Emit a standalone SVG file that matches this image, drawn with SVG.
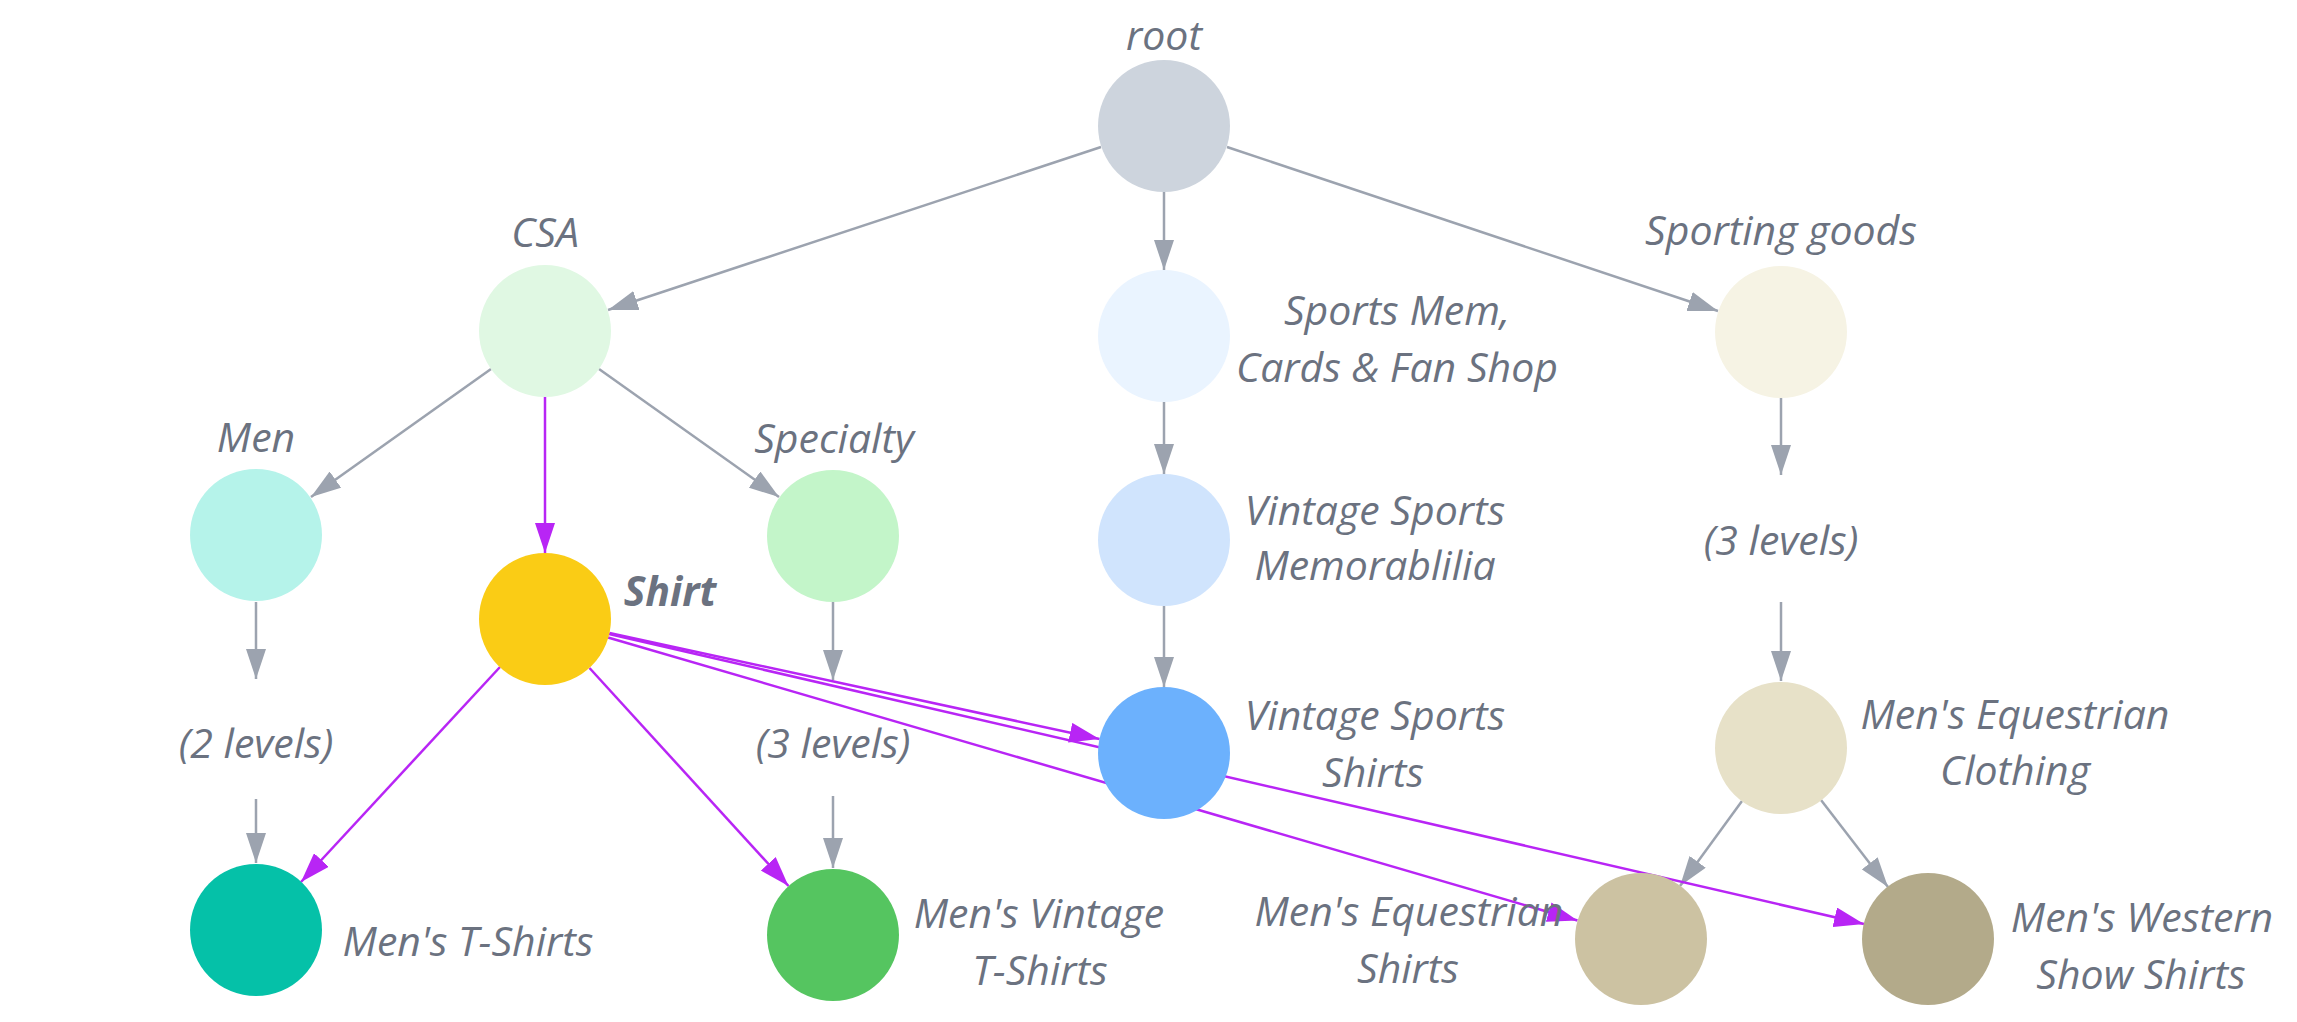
<svg xmlns="http://www.w3.org/2000/svg" width="2297" height="1022" viewBox="0 0 2297 1022">
<style>
.lbl{font-family:"Open Sans","Noto Sans","Liberation Sans",sans-serif;font-style:italic;font-size:41px;fill:#6b7280;text-anchor:middle}
.bold{font-weight:bold}
.g{stroke:#9ca3af;stroke-width:2.5;fill:none}
.p{stroke:#b825f5;stroke-width:2.5;fill:none}
</style>
<defs>
<marker id="ag" viewBox="0 0 30 20" refX="30" refY="10" markerWidth="30" markerHeight="20" markerUnits="userSpaceOnUse" orient="auto"><path d="M0,0 L30,10 L0,20 z" fill="#9ca3af"/></marker>
<marker id="ap" viewBox="0 0 30 20" refX="30" refY="10" markerWidth="30" markerHeight="20" markerUnits="userSpaceOnUse" orient="auto"><path d="M0,0 L30,10 L0,20 z" fill="#b825f5"/></marker>
</defs>
<rect width="2297" height="1022" fill="#ffffff"/>
<g id="connectors">
<line class="g" x1="1101" y1="147" x2="608" y2="310" marker-end="url(#ag)"/>
<line class="g" x1="1164" y1="192" x2="1164" y2="270" marker-end="url(#ag)"/>
<line class="g" x1="1227" y1="147" x2="1718" y2="311" marker-end="url(#ag)"/>
<line class="g" x1="1164" y1="402" x2="1164" y2="474" marker-end="url(#ag)"/>
<line class="g" x1="1164" y1="606" x2="1164" y2="687" marker-end="url(#ag)"/>
<line class="g" x1="491" y1="369" x2="311" y2="497" marker-end="url(#ag)"/>
<line class="g" x1="599" y1="369" x2="779" y2="497" marker-end="url(#ag)"/>
<line class="g" x1="256" y1="602" x2="256" y2="679" marker-end="url(#ag)"/>
<line class="g" x1="256" y1="799" x2="256" y2="863" marker-end="url(#ag)"/>
<line class="g" x1="833" y1="602" x2="833" y2="680" marker-end="url(#ag)"/>
<line class="g" x1="833" y1="796" x2="833" y2="868" marker-end="url(#ag)"/>
<line class="g" x1="1781" y1="398" x2="1781" y2="475" marker-end="url(#ag)"/>
<line class="g" x1="1781" y1="602" x2="1781" y2="681" marker-end="url(#ag)"/>
<line class="g" x1="1742" y1="801" x2="1680" y2="886" marker-end="url(#ag)"/>
<line class="g" x1="1821" y1="800" x2="1888" y2="887" marker-end="url(#ag)"/>
<line class="p" x1="545" y1="397" x2="545" y2="553" marker-end="url(#ap)"/>
<line class="p" x1="500" y1="667" x2="301" y2="882" marker-end="url(#ap)"/>
<line class="p" x1="589.5" y1="668" x2="788.5" y2="886" marker-end="url(#ap)"/>
<line class="p" x1="609.5" y1="633" x2="1099.5" y2="739" marker-end="url(#ap)"/>
<line class="p" x1="609" y1="634" x2="1864" y2="924" marker-end="url(#ap)"/>
<line class="p" x1="608" y1="637.5" x2="1577.5" y2="920.5" marker-end="url(#ap)"/>
</g>
<g id="node-root"><circle cx="1164" cy="126" r="66" fill="#cdd4dd"/><text class="lbl" x="1164" y="50">root</text></g>
<g id="node-csa"><circle cx="545" cy="331" r="66" fill="#e0f8e3"/><text class="lbl" x="545" y="247">CSA</text></g>
<g id="node-sportsmem"><circle cx="1164" cy="336" r="66" fill="#eaf4ff"/><text class="lbl" x="1397" y="325">Sports Mem,</text><text class="lbl" x="1397" y="382">Cards &amp; Fan Shop</text></g>
<g id="node-sporting"><circle cx="1781" cy="332" r="66" fill="#f6f3e4"/><text class="lbl" x="1781" y="245">Sporting goods</text></g>
<g id="node-men"><circle cx="256" cy="535" r="66" fill="#b5f3ea"/><text class="lbl" x="256" y="452">Men</text></g>
<g id="node-specialty"><circle cx="833" cy="536" r="66" fill="#c3f5c9"/><text class="lbl" x="834" y="453">Specialty</text></g>
<g id="node-vsm"><circle cx="1164" cy="540" r="66" fill="#d0e4fd"/><text class="lbl" x="1375" y="525">Vintage Sports</text><text class="lbl" x="1375" y="580">Memorablilia</text></g>
<g id="node-shirt"><circle cx="545" cy="619" r="66" fill="#facc15"/><text class="lbl bold" x="670" y="606">Shirt</text></g>
<g id="node-men-levels"><text class="lbl" x="256" y="758">(2 levels)</text></g>
<g id="node-specialty-levels"><text class="lbl" x="833" y="758">(3 levels)</text></g>
<g id="node-sporting-levels"><text class="lbl" x="1781" y="555">(3 levels)</text></g>
<g id="node-vss"><circle cx="1164" cy="753" r="66" fill="#6cb1fd"/><text class="lbl" x="1375" y="730">Vintage Sports</text><text class="lbl" x="1373" y="787">Shirts</text></g>
<g id="node-mec"><circle cx="1781" cy="748" r="66" fill="#e7e1c8"/><text class="lbl" x="2015" y="729">Men's Equestrian</text><text class="lbl" x="2015" y="785">Clothing</text></g>
<g id="node-mts"><circle cx="256" cy="930" r="66" fill="#05c1a8"/><text class="lbl" x="468" y="956">Men's T-Shirts</text></g>
<g id="node-mvts"><circle cx="833" cy="935" r="66" fill="#55c560"/><text class="lbl" x="1039" y="928">Men's Vintage</text><text class="lbl" x="1040" y="985">T-Shirts</text></g>
<g id="node-mes"><circle cx="1641" cy="939" r="66" fill="#ccc2a2"/><text class="lbl" x="1409" y="926">Men's Equestrian</text><text class="lbl" x="1408" y="983">Shirts</text></g>
<g id="node-mwss"><circle cx="1928" cy="939" r="66" fill="#b3aa8a"/><text class="lbl" x="2142" y="932">Men's Western</text><text class="lbl" x="2141" y="989">Show Shirts</text></g>
</svg>
